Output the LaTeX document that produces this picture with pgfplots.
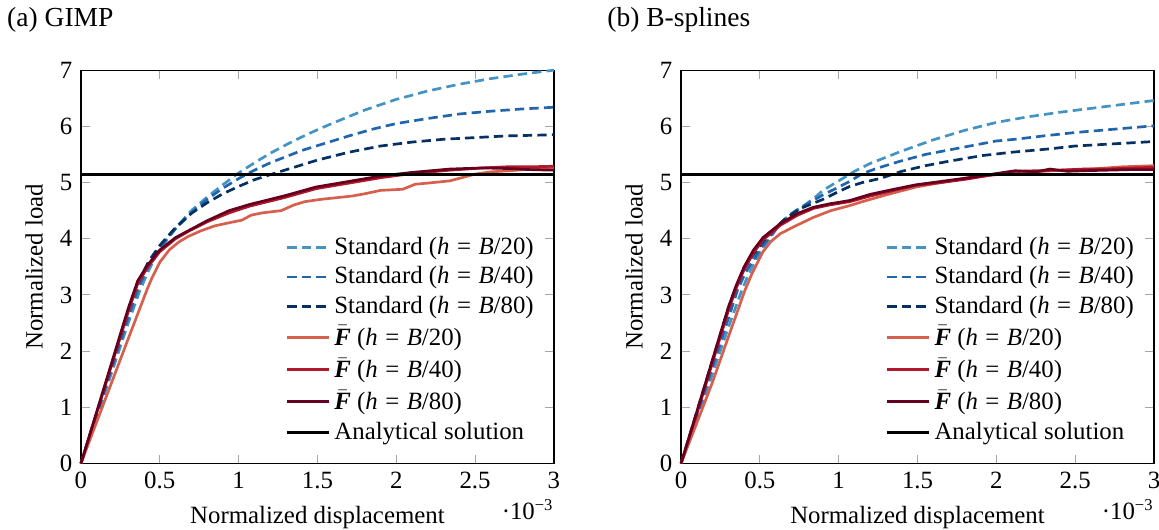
\documentclass[border=0pt,12pt]{standalone}
\usepackage{fontspec}
\setmainfont{Liberation Serif}
\usepackage{pgfplots}
\pgfplotsset{compat=1.18}
\definecolor{cA}{HTML}{4393C3}
\definecolor{cB}{HTML}{2166AC}
\definecolor{cC}{HTML}{053061}
\definecolor{cD}{HTML}{D6604D}
\definecolor{cE}{HTML}{B2182B}
\definecolor{cF}{HTML}{67001F}
\newcommand{\Fb}{$\bar{\mbox{\textbf{\textit{F}}}}$}
\newcommand{\hB}[1]{(\textit{h}\hspace{0.3em}=\hspace{0.3em}\textit{B}/#1)}
\pgfplotsset{
  legend image code/.code={\draw[#1] (0pt,0pt) -- (20pt,0pt);},
}
\pgfplotsset{
  myax/.style={
    width=228.5pt, height=190pt, scale only axis,
    xmin=0, xmax=3, ymin=0, ymax=7,
    xtick={0,0.5,1,1.5,2,2.5,3}, ytick={0,1,2,3,4,5,6,7},
    xlabel={Normalized displacement}, ylabel={Normalized load},
    /pgf/number format/assume math mode=true,
    tick style={gray!70, thin},
    axis line style={black, line width=0.6pt},
    legend style={draw=none, fill=none, row sep=0.2pt, at={(rel axis cs:0.98,0.03)}, anchor=south east},
    legend cell align=left,
    clip=false,
    title style={anchor=base west, inner sep=0pt, at={(rel axis cs:0,1)}, xshift=-35.8pt, yshift=15.3pt, font=\fontsize{13.3}{16}\selectfont},
  },
  std/.style={line width=1.3pt, dash pattern=on 4.5pt off 2.5pt},
  fb/.style={line width=1.3pt},
}
\begin{document}
\begin{tikzpicture}
\path[use as bounding box] (-39.1pt,-32.1pt) rectangle (520.8pt,223.9pt);
\begin{axis}[myax, title={(a) GIMP}]
\addplot[cA, std] coordinates {(0,0)(0.1,0.83)(0.2,1.66)(0.3,2.5)(0.37,3.05)(0.42,3.38)(0.48,3.72)(0.55,4.0)(0.62,4.25)(0.7,4.5)(0.8,4.74)(0.9,4.96)(1.0,5.17)(1.1,5.35)(1.2,5.52)(1.3,5.67)(1.4,5.81)(1.5,5.94)(1.6,6.06)(1.8,6.29)(2.0,6.48)(2.2,6.63)(2.4,6.75)(2.6,6.85)(2.8,6.93)(3.0,7.0)};
\addplot[cB, std] coordinates {(0,0)(0.1,0.87)(0.2,1.74)(0.3,2.6)(0.36,3.1)(0.42,3.47)(0.5,3.85)(0.6,4.18)(0.7,4.46)(0.8,4.7)(0.9,4.9)(1.0,5.07)(1.1,5.22)(1.2,5.35)(1.3,5.46)(1.4,5.57)(1.55,5.7)(1.7,5.83)(1.85,5.95)(2.0,6.05)(2.2,6.14)(2.4,6.22)(2.6,6.27)(2.8,6.31)(3.0,6.34)};
\addplot[cC, std] coordinates {(0,0)(0.1,0.9)(0.2,1.8)(0.27,2.45)(0.33,2.98)(0.38,3.32)(0.43,3.6)(0.5,3.88)(0.6,4.2)(0.7,4.45)(0.8,4.64)(0.9,4.8)(1.0,4.93)(1.1,5.05)(1.2,5.14)(1.35,5.27)(1.5,5.4)(1.7,5.54)(1.9,5.65)(2.1,5.72)(2.3,5.77)(2.5,5.8)(2.7,5.83)(3.0,5.85)};
\addplot[cD, fb] coordinates {(0,0)(0.1,0.74)(0.2,1.48)(0.3,2.22)(0.42,3.1)(0.45,3.3)(0.5,3.58)(0.56,3.8)(0.62,3.94)(0.68,4.04)(0.76,4.14)(0.85,4.23)(0.95,4.29)(1.02,4.33)(1.08,4.42)(1.15,4.46)(1.27,4.5)(1.35,4.6)(1.42,4.66)(1.52,4.7)(1.62,4.73)(1.72,4.76)(1.8,4.8)(1.9,4.86)(2.04,4.88)(2.12,4.97)(2.2,4.99)(2.34,5.03)(2.42,5.09)(2.5,5.15)(2.6,5.19)(2.72,5.21)(2.85,5.24)(3.0,5.27)};
\addplot[cE, fb] coordinates {(0,0)(0.1,0.9)(0.2,1.8)(0.3,2.7)(0.36,3.2)(0.42,3.48)(0.5,3.77)(0.6,4.0)(0.7,4.16)(0.8,4.3)(0.94,4.46)(1.07,4.58)(1.2,4.67)(1.3,4.74)(1.49,4.89)(1.7,4.99)(1.91,5.09)(2.1,5.16)(2.34,5.22)(2.55,5.26)(2.7,5.28)(2.85,5.28)(3.0,5.29)};
\addplot[cF, fb] coordinates {(0,0)(0.1,0.92)(0.2,1.84)(0.3,2.76)(0.36,3.25)(0.42,3.52)(0.5,3.8)(0.6,4.02)(0.7,4.17)(0.8,4.32)(0.94,4.5)(1.07,4.61)(1.2,4.7)(1.3,4.77)(1.49,4.92)(1.7,5.02)(1.91,5.12)(2.1,5.18)(2.34,5.24)(2.55,5.26)(2.7,5.25)(2.85,5.23)(3.0,5.22)};
\addplot[black, line width=1.5pt] coordinates {(0,5.14)(3,5.14)};
\legend{Standard \hB{20}, Standard \hB{40}, Standard \hB{80}, \Fb\ \hB{20}, \Fb\ \hB{40}, \Fb\ \hB{80}, Analytical solution}
\node[anchor=base east, inner sep=0pt] at (rel axis cs:1,0) [yshift=-27.3pt] {\textperiodcentered10\textsuperscript{−3}};
\end{axis}
\begin{axis}[myax, xshift=289.9pt, title={(b) B-splines}]
\addplot[cA, std] coordinates {(0,0)(0.1,0.8)(0.2,1.6)(0.3,2.42)(0.385,3.08)(0.43,3.38)(0.5,3.75)(0.55,3.95)(0.63,4.28)(0.7,4.45)(0.8,4.63)(0.86,4.76)(0.9,4.86)(1.0,5.03)(1.1,5.2)(1.2,5.34)(1.3,5.45)(1.4,5.56)(1.5,5.66)(1.6,5.76)(1.8,5.93)(2.0,6.07)(2.2,6.17)(2.4,6.25)(2.6,6.32)(2.8,6.39)(3.0,6.46)};
\addplot[cB, std] coordinates {(0,0)(0.1,0.86)(0.2,1.72)(0.3,2.58)(0.36,3.1)(0.41,3.4)(0.5,3.8)(0.6,4.17)(0.7,4.43)(0.8,4.62)(0.9,4.78)(1.0,4.92)(1.07,5.02)(1.15,5.16)(1.25,5.26)(1.39,5.38)(1.55,5.5)(1.7,5.58)(1.85,5.66)(2.0,5.74)(2.12,5.77)(2.3,5.83)(2.5,5.89)(2.75,5.95)(3.0,6.01)};
\addplot[cC, std] coordinates {(0,0)(0.1,0.92)(0.2,1.84)(0.3,2.76)(0.35,3.15)(0.4,3.45)(0.45,3.68)(0.52,3.95)(0.65,4.33)(0.75,4.53)(0.9,4.7)(1.0,4.84)(1.07,4.93)(1.15,5.0)(1.26,5.07)(1.4,5.2)(1.55,5.3)(1.7,5.38)(1.91,5.48)(2.1,5.54)(2.34,5.6)(2.5,5.65)(2.75,5.69)(3.0,5.73)};
\addplot[cD, fb] coordinates {(0,0)(0.1,0.72)(0.2,1.45)(0.3,2.25)(0.405,3.08)(0.45,3.38)(0.52,3.77)(0.57,3.95)(0.63,4.09)(0.72,4.22)(0.84,4.38)(0.95,4.5)(1.07,4.59)(1.15,4.66)(1.3,4.78)(1.49,4.92)(1.65,5.0)(1.81,5.08)(2.0,5.14)(2.2,5.18)(2.4,5.22)(2.6,5.24)(2.8,5.28)(3.0,5.3)};
\addplot[cE, fb] coordinates {(0,0)(0.1,0.88)(0.2,1.8)(0.3,2.72)(0.35,3.12)(0.4,3.45)(0.46,3.75)(0.52,3.98)(0.63,4.24)(0.74,4.42)(0.84,4.54)(0.94,4.6)(1.07,4.66)(1.2,4.76)(1.35,4.86)(1.49,4.95)(1.65,5.0)(1.81,5.06)(2.0,5.15)(2.12,5.2)(2.25,5.21)(2.4,5.22)(2.55,5.24)(2.7,5.24)(2.85,5.26)(3.0,5.27)};
\addplot[cF, fb] coordinates {(0,0)(0.1,0.92)(0.2,1.85)(0.3,2.78)(0.35,3.17)(0.4,3.5)(0.46,3.8)(0.52,4.02)(0.63,4.27)(0.74,4.45)(0.84,4.56)(0.94,4.62)(1.07,4.68)(1.2,4.79)(1.35,4.88)(1.49,4.96)(1.65,5.02)(1.81,5.08)(2.0,5.16)(2.12,5.21)(2.25,5.19)(2.34,5.24)(2.45,5.2)(2.55,5.21)(2.7,5.22)(2.85,5.23)(3.0,5.23)};
\addplot[black, line width=1.5pt] coordinates {(0,5.14)(3,5.14)};
\legend{Standard \hB{20}, Standard \hB{40}, Standard \hB{80}, \Fb\ \hB{20}, \Fb\ \hB{40}, \Fb\ \hB{80}, Analytical solution}
\node[anchor=base east, inner sep=0pt] at (rel axis cs:1,0) [yshift=-27.3pt] {\textperiodcentered10\textsuperscript{−3}};
\end{axis}
\end{tikzpicture}
\end{document}
